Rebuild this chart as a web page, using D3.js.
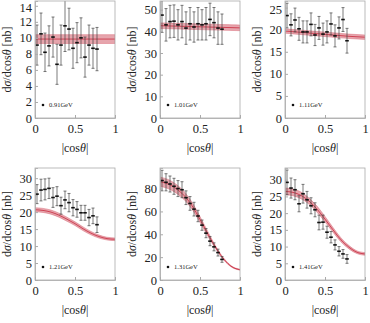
<!DOCTYPE html>
<html>
<head>
<meta charset="utf-8">
<script src="https://cdn.jsdelivr.net/npm/d3@7"></script>
<style>
  body { margin: 0; background: #fff; }
  svg { display: block; }
  svg text { font-family: "Liberation Serif", "Times New Roman", "DejaVu Serif", serif !important; fill: #222; }
</style>
</head>
<body>
<svg id="chart" width="370" height="323"></svg>
<script>
// data
var energies = ["0.91GeV", "1.01GeV", "1.11GeV", "1.21GeV", "1.31GeV", "1.41GeV"];
var cosBins = [0.025, 0.075, 0.125, 0.175, 0.225, 0.275, 0.325, 0.375, 0.425, 0.475, 0.525, 0.575, 0.625, 0.675, 0.725, 0.775];
var bandX = [0, 0.1, 0.2, 0.3, 0.4, 0.5, 0.6, 0.7, 0.8, 0.9, 1];

var val091 = [9.1, 10.5, 8.2, 9.0, 10.1, 6.7, 9.1, 11.5, 11.1, 8.7, 9.4, 10.0, 7.6, 9.1, 8.7, 8.6];
var err091 = [2.5, 2.6, 2.4, 2.5, 2.5, 2.5, 2.5, 3.2, 2.6, 2.5, 2.5, 2.5, 2.5, 2.5, 2.5, 2.7];
var val101 = [47.5, 43, 44.5, 44.7, 43, 44.5, 41.5, 43.5, 42, 43.5, 43, 43.5, 45.5, 44, 41.5, 41];
var err101 = [8, 7.5, 7.5, 7.5, 7, 7.5, 7.5, 7.5, 7, 7.5, 7, 7.5, 7.5, 7, 7.5, 7];
var val111 = [23.2, 21.1, 22.2, 20.2, 19.5, 19.5, 21.2, 18.8, 20.4, 19.0, 19.5, 21.3, 18.6, 20.4, 22.3, 17.5];
var err111 = [2.8, 2.5, 2.7, 2.6, 2.5, 2.5, 2.6, 2.4, 2.6, 2.5, 2.5, 2.5, 2.5, 2.5, 2.7, 2.8];
var val121 = [25.3, 26.5, 26.7, 27, 24.3, 24.7, 21.9, 23.6, 22.8, 21.3, 20.8, 19.8, 19.8, 18.4, 18.9, 16.3];
var err121 = [2.8, 3.2, 3.1, 3, 2.9, 2.8, 2.5, 2.6, 2.7, 2.4, 2.3, 2.2, 2.2, 2.4, 2.3, 2.3];
var val131 = [87, 85.5, 84, 82, 80, 79, 72, 67, 62, 56, 48, 41, 34, 29, 24, 18];
var err131 = [9, 7.5, 7, 7, 7, 7, 6, 6, 6, 5, 4.5, 4, 4, 3.5, 3, 2.5];
var val141 = [29.2, 27.5, 27, 22.8, 25.8, 24, 22.2, 21, 17.2, 17.3, 14.3, 12.8, 10.5, 8.6, 7.8, 6.3];
var err141 = [3.7, 3, 3, 2.4, 2.8, 2.5, 2.4, 2.1, 2.2, 2.1, 1.8, 1.7, 1.5, 1.4, 1.3, 1.3];

// model band (centre and half width)
var fit091 = [9.85, 9.85, 9.85, 9.85, 9.85, 9.85, 9.85, 9.85, 9.85, 9.85, 9.85];
var wid091 = [0.55, 0.55, 0.55, 0.55, 0.55, 0.55, 0.55, 0.55, 0.55, 0.55, 0.55];
var fit101 = [42.6, 42.5, 42.4, 42.3, 42.2, 42.1, 42.0, 41.9, 41.8, 41.7, 41.6];
var wid101 = [1.3, 1.3, 1.3, 1.3, 1.3, 1.3, 1.3, 1.3, 1.3, 1.3, 1.3];
var fit111 = [19.7, 19.55, 19.4, 19.25, 19.1, 18.95, 18.8, 18.65, 18.5, 18.4, 18.3];
var wid111 = [0.5, 0.5, 0.5, 0.5, 0.5, 0.5, 0.5, 0.5, 0.5, 0.5, 0.5];
var fit121 = [20.7, 20.5, 20.0, 19.1, 17.9, 16.6, 15.1, 13.8, 12.8, 12.2, 12.0];
var wid121 = [0.6, 0.6, 0.6, 0.6, 0.6, 0.55, 0.55, 0.5, 0.45, 0.4, 0.4];
var fit131 = [86, 84, 80, 74, 65, 53, 40, 28, 18, 11.5, 9];
var wid131 = [4, 4, 3.8, 3.5, 3, 2.5, 2, 1.2, 0.8, 0.5, 0.4];
var fit141 = [26.5, 26.2, 25.3, 23.6, 21.2, 18.2, 15, 12, 9.8, 8.3, 7.8];
var wid141 = [1, 1, 1, 0.9, 0.9, 0.8, 0.7, 0.6, 0.5, 0.4, 0.4];

var yMax = [14.6, 54, 26.5, 33, 98, 33.5];
var yStep = [2, 10, 5, 5, 20, 5];
var xTicks = [0, 0.5, 1];

var vals = [val091, val101, val111, val121, val131, val141];
var errs = [err091, err101, err111, err121, err131, err141];
var fits = [fit091, fit101, fit111, fit121, fit131, fit141];
var wids = [wid091, wid101, wid111, wid121, wid131, wid141];

// layout
var lefts = [35, 160, 285];
var tops = [1, 168];
var pw = 80, ph = [117, 112];
var serif = "'Liberation Serif', 'Times New Roman', 'DejaVu Serif', serif";

var svg = d3.select("#chart");

energies.forEach(function(en, k) {
  var col = k % 3, row = Math.floor(k / 3);
  var x0 = lefts[col], y0 = tops[row], h = ph[row];
  var g = svg.append("g").attr("transform", "translate(" + x0 + "," + y0 + ")");

  var x = d3.scaleLinear().domain([0, 1]).range([0, pw]);
  var y = d3.scaleLinear().domain([0, yMax[k]]).range([h, 0]);

  g.append("clipPath").attr("id", "clip" + k)
    .append("rect").attr("width", pw).attr("height", h);
  var plot = g.append("g").attr("clip-path", "url(#clip" + k + ")");

  // band
  var band = bandX.map(function(v, i) { return {x: v, c: fits[k][i], w: wids[k][i]}; });
  plot.append("path").datum(band)
    .attr("d", d3.area().curve(d3.curveMonotoneX)
      .x(function(d) { return x(d.x); })
      .y0(function(d) { return y(d.c - d.w); })
      .y1(function(d) { return y(d.c + d.w); }))
    .attr("fill", "#e08e98").attr("fill-opacity", 0.8)
    .attr("stroke", "#d86a78").attr("stroke-width", 0.5);
  plot.append("path").datum(band)
    .attr("d", d3.line().curve(d3.curveMonotoneX)
      .x(function(d) { return x(d.x); })
      .y(function(d) { return y(d.c); }))
    .attr("fill", "none").attr("stroke", "#c8283c").attr("stroke-width", 0.8);

  // data with error bars
  var pts = cosBins.map(function(c, i) { return {x: c, v: vals[k][i], e: errs[k][i]}; });
  var eb = plot.selectAll(".pt").data(pts).enter().append("g");
  eb.append("line")
    .attr("x1", function(d) { return x(d.x); }).attr("x2", function(d) { return x(d.x); })
    .attr("y1", function(d) { return y(d.v - d.e); }).attr("y2", function(d) { return y(d.v + d.e); })
    .attr("stroke", "#444").attr("stroke-width", 0.7);
  [-1, 1].forEach(function(s) {
    eb.append("line")
      .attr("x1", function(d) { return x(d.x) - 1.5; }).attr("x2", function(d) { return x(d.x) + 1.5; })
      .attr("y1", function(d) { return y(d.v + s * d.e); }).attr("y2", function(d) { return y(d.v + s * d.e); })
      .attr("stroke", "#444").attr("stroke-width", 0.7);
  });
  eb.append("line")
    .attr("x1", function(d) { return x(d.x) - 1.8; }).attr("x2", function(d) { return x(d.x) + 1.8; })
    .attr("y1", function(d) { return y(d.v); }).attr("y2", function(d) { return y(d.v); })
    .attr("stroke", "#111").attr("stroke-width", 1.6);

  // frame
  g.append("rect").attr("width", pw).attr("height", h)
    .attr("fill", "none").attr("stroke", "#aaa").attr("stroke-width", 0.8);

  // axes
  var yt = d3.range(0, yMax[k] + 0.001, yStep[k]);
  var yAxis = d3.axisLeft(y).tickValues(yt).tickSize(-3).tickPadding(3).tickFormat(d3.format("d"));
  var ya = g.append("g").call(yAxis);
  var xAxis = d3.axisBottom(x).tickValues(xTicks).tickSize(-3).tickPadding(6)
    .tickFormat(function(d) { return d === 0.5 ? "0.5" : d; });
  var xa = g.append("g").attr("transform", "translate(0," + h + ")").call(xAxis);
  [ya, xa].forEach(function(a) {
    a.attr("font-family", serif);
    a.select(".domain").attr("stroke", "#aaa").attr("stroke-width", 0.8);
    a.selectAll(".tick line").attr("stroke", "#aaa");
    a.selectAll(".tick text").attr("font-size", 12.5).attr("fill", "#222");
  });
  // keep the top label inside the picture
  ya.selectAll(".tick text").filter(function(d) { return y(d) + y0 < 8; }).attr("dy", "0.45em");

  // labels
  g.append("text")
    .attr("transform", "translate(-24," + (h / 2) + ") rotate(-90)")
    .attr("text-anchor", "middle").attr("font-size", 12).attr("font-family", serif)
    .html("d<tspan font-style='italic'>σ</tspan>/dcos<tspan font-style='italic'>θ</tspan> [nb]");
  g.append("text")
    .attr("x", pw / 2).attr("y", h + 34)
    .attr("text-anchor", "middle").attr("font-size", 12).attr("font-family", serif)
    .html("|cos<tspan font-style='italic'>θ</tspan>|");

  // legend
  g.append("circle").attr("cx", 8).attr("cy", h - 13).attr("r", 1.3).attr("fill", "#111");
  g.append("text").attr("x", 14).attr("y", h - 11).attr("font-size", 6.5).attr("font-family", serif).text(en);
});
</script>
</body>
</html>
